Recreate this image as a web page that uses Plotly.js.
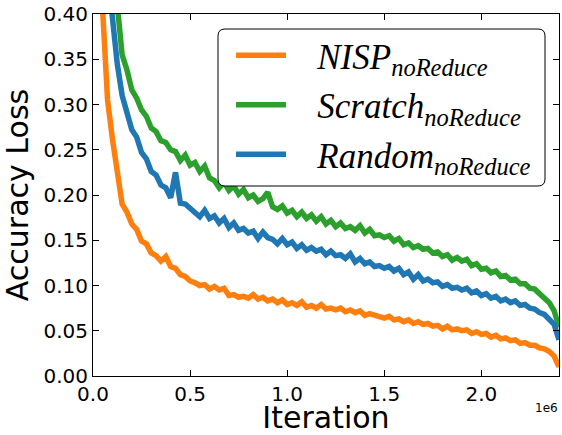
<!DOCTYPE html>
<html>
<head>
<meta charset="utf-8">
<script src="https://cdn.plot.ly/plotly-3.0.1.min.js"></script>
<style>html,body{margin:0;padding:0;background:#fff;}#chart{width:562px;height:435px;}</style>
</head>
<body>
<div id="chart"></div>
<script>
// Iteration, in units of 1e6 (matplotlib offset "1e6")
const iterationsE6 = [
  0.000,0.025,0.050,0.075,0.100,0.125,0.150,0.175,0.200,0.225,
  0.250,0.275,0.300,0.325,0.350,0.375,0.400,0.425,0.450,0.475,
  0.500,0.525,0.550,0.575,0.600,0.625,0.650,0.675,0.700,0.725,
  0.750,0.775,0.800,0.825,0.850,0.875,0.900,0.925,0.950,0.975,
  1.000,1.025,1.050,1.075,1.100,1.125,1.150,1.175,1.200,1.225,
  1.250,1.275,1.300,1.325,1.350,1.375,1.400,1.425,1.450,1.475,
  1.500,1.525,1.550,1.575,1.600,1.625,1.650,1.675,1.700,1.725,
  1.750,1.775,1.800,1.825,1.850,1.875,1.900,1.925,1.950,1.975,
  2.000,2.025,2.050,2.075,2.100,2.125,2.150,2.175,2.200,2.225,
  2.250,2.275,2.300,2.325,2.350,2.375,2.400
];

const nispLoss = [
  0.600,0.500,0.385,0.305,0.262,0.222,0.190,0.181,0.168,0.162,
  0.149,0.146,0.136,0.133,0.127,0.132,0.121,0.119,0.112,0.110,
  0.105,0.103,0.100,0.101,0.096,0.099,0.095,0.097,0.089,0.090,
  0.087,0.088,0.086,0.090,0.085,0.087,0.083,0.085,0.081,0.084,
  0.079,0.081,0.078,0.082,0.076,0.078,0.075,0.079,0.074,0.075,
  0.073,0.075,0.071,0.073,0.070,0.072,0.067,0.069,0.067,0.066,
  0.064,0.066,0.062,0.063,0.060,0.062,0.058,0.060,0.057,0.058,
  0.055,0.056,0.052,0.055,0.051,0.052,0.050,0.051,0.047,0.049,
  0.046,0.047,0.043,0.045,0.041,0.042,0.039,0.040,0.036,0.037,
  0.034,0.034,0.031,0.030,0.027,0.022,0.010
];

const scratchLoss = [
  0.700,0.650,0.600,0.550,0.480,0.410,0.355,0.338,0.316,0.307,
  0.294,0.287,0.274,0.270,0.260,0.258,0.250,0.248,0.238,0.244,
  0.233,0.236,0.226,0.232,0.219,0.216,0.208,0.214,0.205,0.210,
  0.201,0.206,0.197,0.200,0.193,0.196,0.203,0.187,0.184,0.188,
  0.180,0.183,0.176,0.181,0.174,0.178,0.171,0.176,0.168,0.172,
  0.165,0.169,0.163,0.165,0.161,0.166,0.158,0.162,0.155,0.156,
  0.153,0.155,0.149,0.152,0.145,0.147,0.142,0.144,0.140,0.141,
  0.136,0.137,0.132,0.134,0.128,0.131,0.127,0.129,0.122,0.124,
  0.118,0.119,0.114,0.116,0.110,0.111,0.106,0.107,0.102,0.102,
  0.097,0.096,0.091,0.087,0.081,0.072,0.054
];

const randomLoss = [
  0.600,0.550,0.500,0.450,0.400,0.345,0.310,0.290,0.272,0.264,
  0.247,0.240,0.226,0.222,0.211,0.208,0.197,0.225,0.191,0.190,
  0.185,0.182,0.176,0.183,0.174,0.177,0.169,0.174,0.164,0.169,
  0.161,0.163,0.158,0.160,0.152,0.159,0.153,0.151,0.146,0.152,
  0.145,0.148,0.141,0.145,0.139,0.142,0.138,0.140,0.134,0.138,
  0.133,0.134,0.130,0.135,0.126,0.130,0.124,0.126,0.121,0.122,
  0.119,0.121,0.116,0.119,0.112,0.115,0.107,0.112,0.105,0.107,
  0.103,0.104,0.099,0.101,0.097,0.098,0.095,0.097,0.092,0.094,
  0.089,0.091,0.086,0.088,0.083,0.085,0.081,0.083,0.078,0.079,
  0.075,0.074,0.070,0.068,0.063,0.057,0.040
];

const seriesNames = [
  '&nbsp;&nbsp;&nbsp;<i>NISP</i><sub><i>noReduce</i></sub>',
  '&nbsp;&nbsp;&nbsp;<i>Scratch</i><sub><i>noReduce</i></sub>',
  '&nbsp;&nbsp;&nbsp;<i>Random</i><sub><i>noReduce</i></sub>'
];
const seriesColors = ['#ff7f0e', '#2ca02c', '#1f77b4'];
const seriesValues = [nispLoss, scratchLoss, randomLoss];

const traces = seriesValues.map((vals, i) => ({
  type: 'scatter',
  mode: 'lines',
  x: iterationsE6,
  y: vals,
  name: seriesNames[i],
  legendgroup: 'g' + i,
  line: {color: seriesColors[i], width: 5.5},
  hoverinfo: 'skip'
}));

// legend box with rounded corners (paper coords)
const W = 466, H = 362;
const bx0 = (218 - 93) / W, bx1 = (545 - 93) / W;
const by0 = (376 - 186) / H, by1 = (376 - 29) / H;
const rx = 7 / W, ry = 7 / H;
const boxPath = `M ${bx0 + rx} ${by1} L ${bx1 - rx} ${by1} Q ${bx1} ${by1} ${bx1} ${by1 - ry} ` +
  `L ${bx1} ${by0 + ry} Q ${bx1} ${by0} ${bx1 - rx} ${by0} L ${bx0 + rx} ${by0} ` +
  `Q ${bx0} ${by0} ${bx0} ${by0 + ry} L ${bx0} ${by1 - ry} Q ${bx0} ${by1} ${bx0 + rx} ${by1} Z`;

const axisCommon = {
  showline: true, linecolor: '#000', linewidth: 1, mirror: 'ticks',
  ticks: 'inside', ticklen: 6, tickwidth: 1, tickcolor: '#000',
  showgrid: false, zeroline: false,
  tickfont: {family: 'DejaVu Sans', size: 20, color: '#000'}
};

const layout = {
  width: 562, height: 435,
  margin: {l: 93, r: 3, t: 14, b: 59},
  paper_bgcolor: '#fff', plot_bgcolor: '#fff',
  showlegend: true,
  xaxis: Object.assign({}, axisCommon, {
    range: [0, 2.4], dtick: 0.5, tick0: 0, tickformat: '.1f',
    title: {text: 'Iteration', font: {family: 'DejaVu Sans', size: 30, color: '#000'}, standoff: 9}
  }),
  yaxis: Object.assign({}, axisCommon, {
    range: [0, 0.4], dtick: 0.05, tick0: 0, tickformat: '.2f',
    title: {text: 'Accuracy Loss', font: {family: 'DejaVu Sans', size: 30, color: '#000'}, standoff: 6}
  }),
  legend: {
    x: (231 - 93) / W, xanchor: 'left',
    y: (376 - 26) / H, yanchor: 'top',
    bgcolor: 'rgba(0,0,0,0)', borderwidth: 0,
    font: {family: 'Liberation Serif', size: 35, color: '#000'},
    itemwidth: 50,
    tracegroupgap: 1
  },
  shapes: [{
    type: 'path', xref: 'paper', yref: 'paper', path: boxPath,
    fillcolor: '#fff', line: {color: '#000', width: 1}, layer: 'above'
  }],
  annotations: [{
    text: '1e6', xref: 'paper', yref: 'paper', x: 1.003, y: -0.088,
    xanchor: 'right', yanchor: 'middle', showarrow: false,
    font: {family: 'DejaVu Sans', size: 12, color: '#000'}
  }]
};

Plotly.newPlot('chart', traces, layout, {displayModeBar: false, staticPlot: true});
</script>
</body>
</html>
